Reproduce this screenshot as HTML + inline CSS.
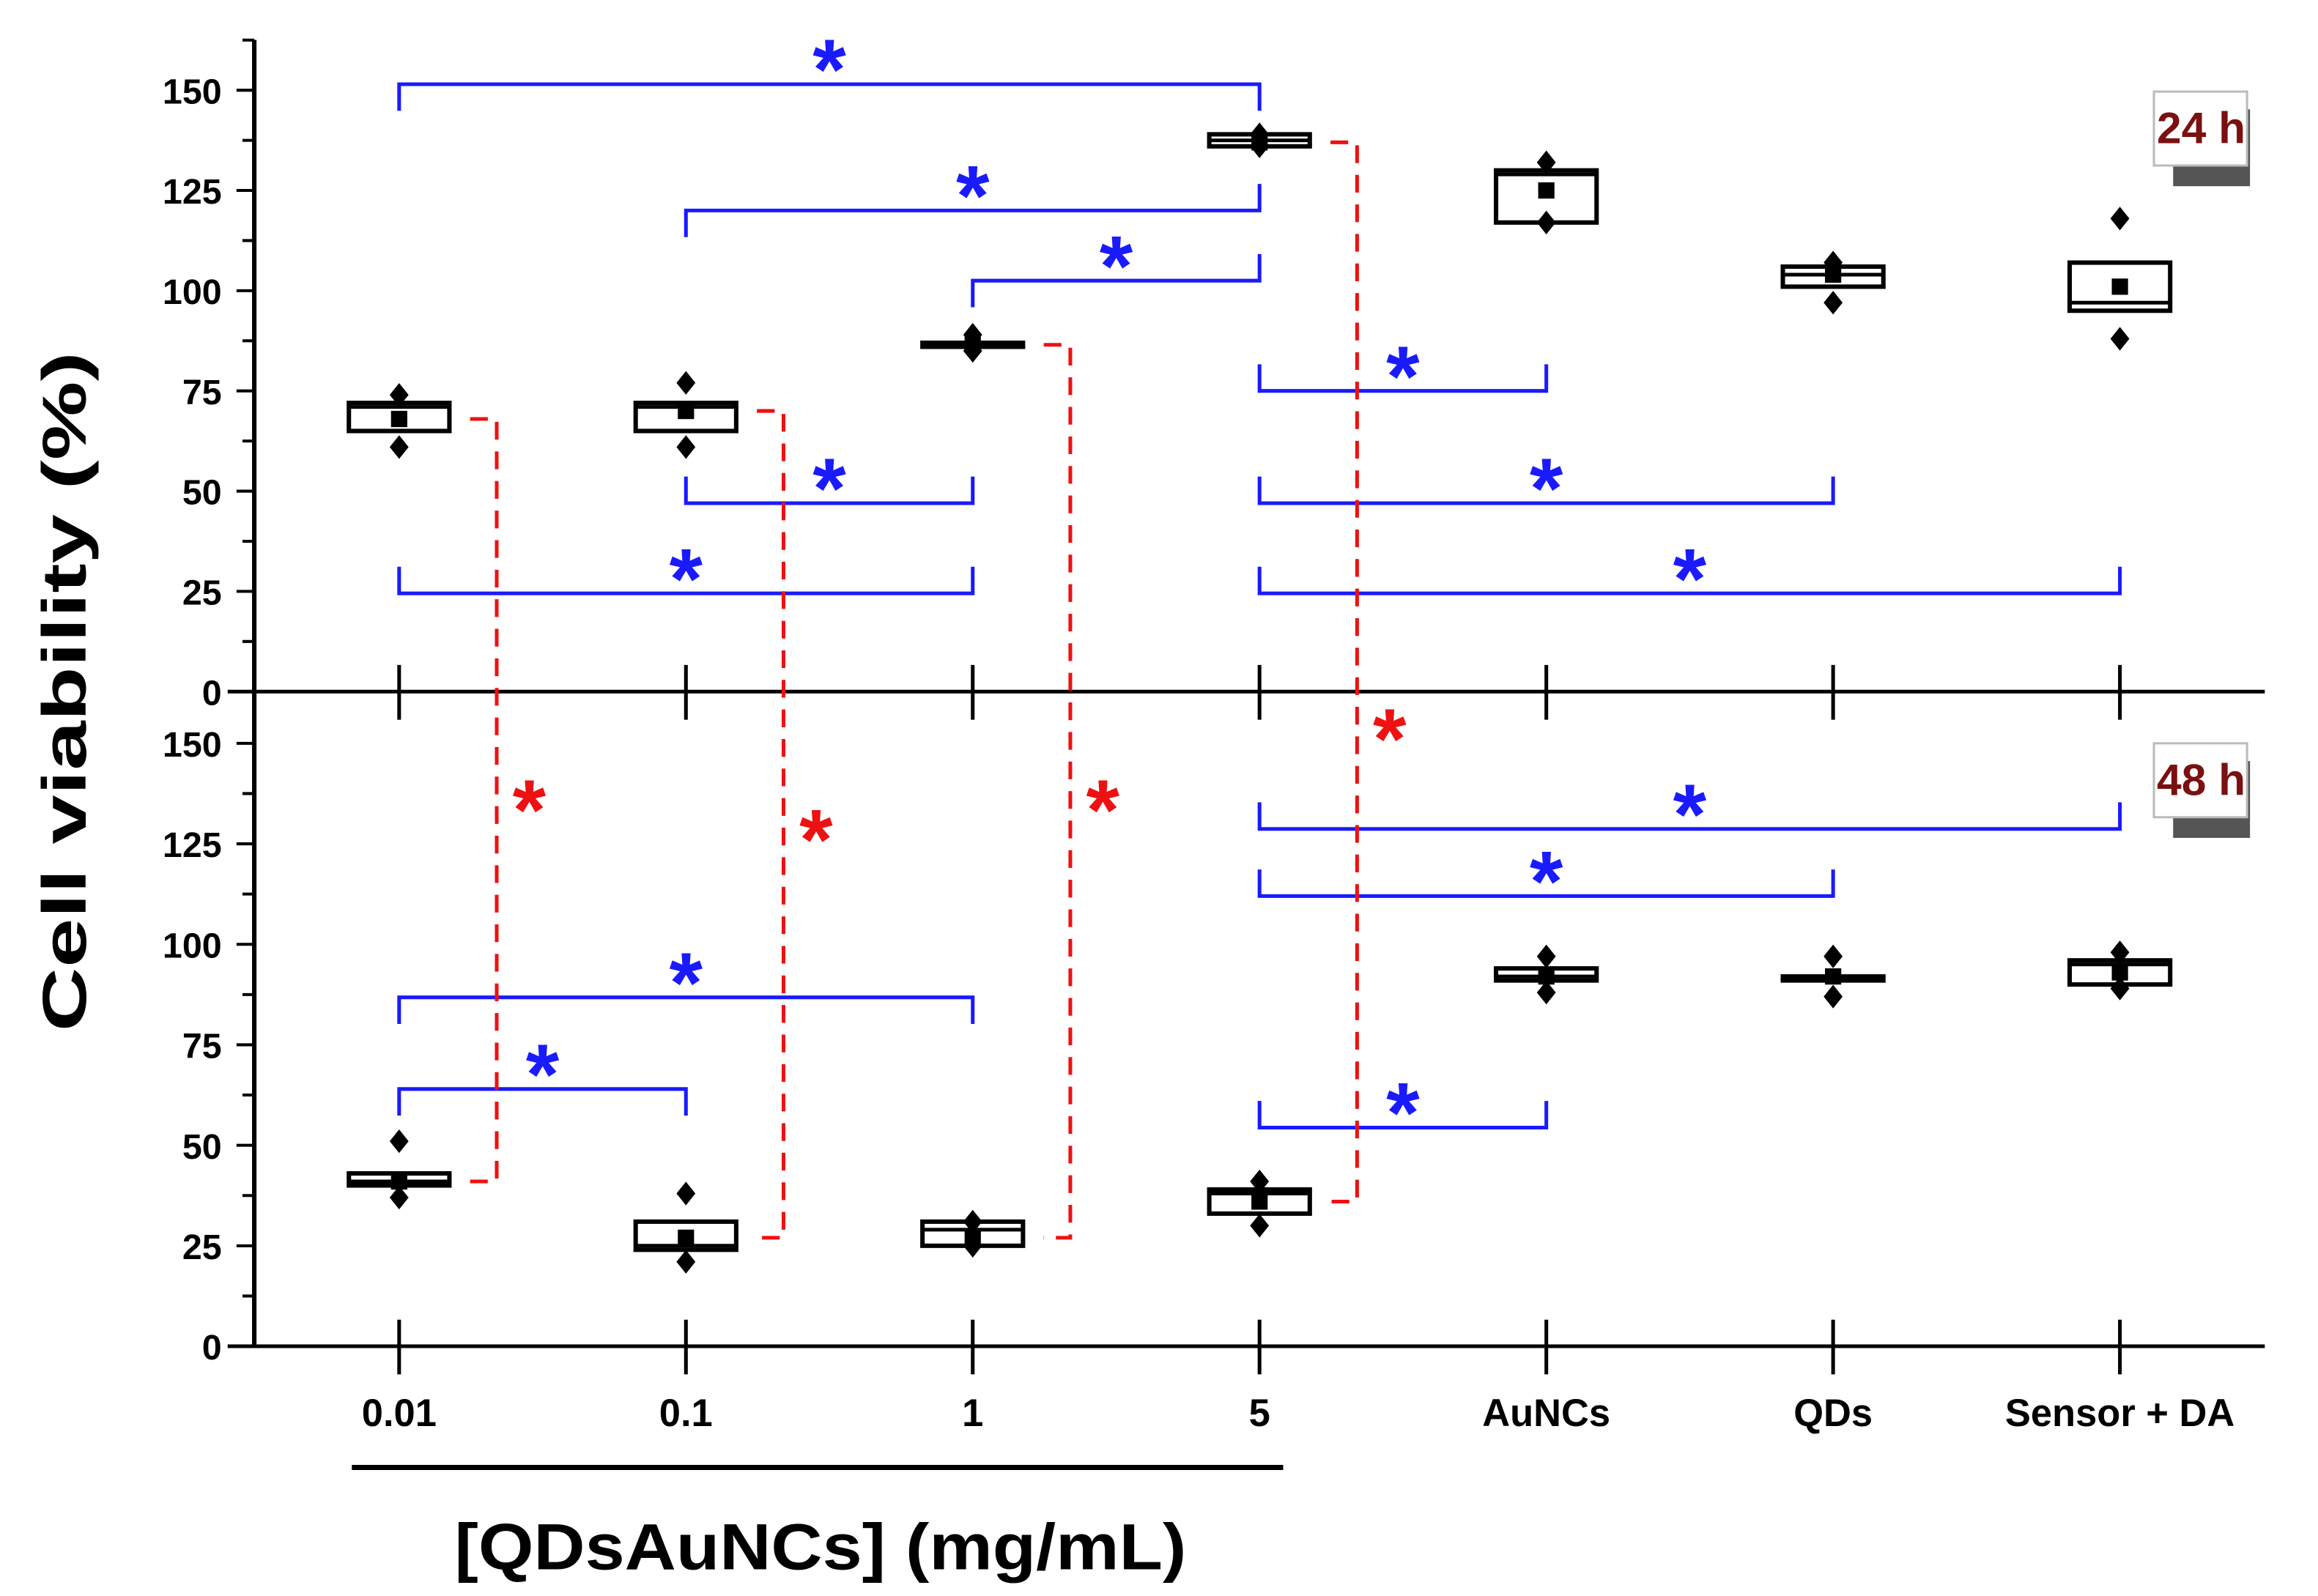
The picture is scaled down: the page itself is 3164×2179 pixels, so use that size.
<!DOCTYPE html>
<html><head><meta charset="utf-8"><style>
html,body{margin:0;padding:0;background:#fff;}
svg{display:block;}
text{font-family:"Liberation Sans",Arial,sans-serif;font-weight:bold;}
</style></head><body>
<svg id="chart" width="3164" height="2179" viewBox="0 0 1568 1080" preserveAspectRatio="none" xmlns="http://www.w3.org/2000/svg">
<g id="axes"></g>
<g id="marks"></g>
<text x="0" y="0" font-size="42" text-anchor="middle" textLength="460" lengthAdjust="spacingAndGlyphs" transform="translate(58,468) rotate(-90)">Cell viability  (%)</text>
<line x1="238" y1="993" x2="868" y2="993" stroke="#000" stroke-width="3.5"/>
<text x="555" y="1062" font-size="44" text-anchor="middle" textLength="495" lengthAdjust="spacingAndGlyphs">[QDsAuNCs] (mg/mL)</text>
<g>
<rect x="1470" y="74" width="52" height="52" fill="#555"/>
<rect x="1457" y="62" width="63" height="50" fill="#fff" stroke="#bbb" stroke-width="1.5"/>
<text x="1489" y="97" font-size="30" fill="#7a1010" text-anchor="middle">24 h</text>
</g>
<g>
<rect x="1470" y="515" width="52" height="52" fill="#555"/>
<rect x="1457" y="503" width="63" height="50" fill="#fff" stroke="#bbb" stroke-width="1.5"/>
<text x="1489" y="538" font-size="30" fill="#7a1010" text-anchor="middle">48 h</text>
</g>
</svg>
<script>
const categories = ["0.01","0.1","1","5","AuNCs","QDs","Sensor + DA"];
const yTicks = [0,25,50,75,100,125,150];
// 24 h
const q1_24 = [65,65,86,136,117,101,95];
const med_24 = [71,71,86.5,137.5,129,104,97];
const q3_24 = [72,72,87,139,130,106,107];
const mean_24 = [68,70,86.5,137,125,104,101];
const max_24 = [74,77,89,139,132,107,118];
const min_24 = [61,61,85,136,117,97,88];
// 48 h
const q1_48 = [40,24,25,33,91,91,90];
const med_48 = [41,25,29,38,92,91.5,95];
const q3_48 = [43,31,31,39,94,92,96];
const mean_48 = [41,27,27,36,92,92,93];
const max_48 = [51,38,31,41,97,97,98];
const min_48 = [37,21,25,30,88,87,89];
// brackets
const br24From = [0,1,2,3,1,3,0,3];
const br24To = [3,3,3,4,2,5,2,6];
const br24Val = [151.5,120,102.5,75,47,47,24.5,24.5];
const br24L = [1,1,1,-1,-1,-1,-1,-1];
const br24R = [1,-1,-1,-1,-1,-1,-1,-1];
const br48From = [3,3,0,0,3];
const br48To = [6,5,2,1,4];
const br48Val = [128.7,112,86.8,64,54.4];
const br48L = [-1,-1,1,1,-1];
const br48R = [-1,-1,1,1,-1];
const redCat = [0,1,2,3];

const NS="http://www.w3.org/2000/svg";
const xS = i => 270 + 194*i;
const yT = v => 468 - v*2.713;
const yB = v => 911 - v*2.72;
const axes = document.getElementById('axes');
const marks = document.getElementById('marks');
function mk(tag, at, parent){const e=document.createElementNS(NS,tag);for(const k in at)e.setAttribute(k,at[k]);parent.appendChild(e);return e;}

let e;
e = mk('line',{x1:172,y1:27,x2:172,y2:911,stroke:'#000','stroke-width':3},axes);


e = mk('line',{x1:154,y1:468,x2:1532,y2:468,stroke:'#000','stroke-width':2.5},axes);


e = mk('line',{x1:154,y1:911,x2:1532,y2:911,stroke:'#000','stroke-width':2.5},axes);


[yT,yB].forEach((ys,p)=>{
  for(let v=0; v<=162.5; v+=12.5){
    const maj = (v%25===0);
    if(p===1 && v>150) continue;
    e = mk('line',{x1:maj?160:164,y1:ys(v),x2:172,y2:ys(v),stroke:'#000','stroke-width':2},axes);
    
    
  }
  yTicks.forEach(v=>{
    e = mk('text',{x:150,y:ys(v)+9,'font-size':24,'text-anchor':'end'},axes);
    e.textContent=v;
    
    
  });
  categories.forEach((c,i)=>{
    const y0 = p===0?468:911;
    e = mk('line',{x1:xS(i),y1:y0-18,x2:xS(i),y2:y0+19,stroke:'#000','stroke-width':2.5},axes);
    
    
  });
});
categories.forEach((c,i)=>{
  e = mk('text',{x:xS(i),y:965,'font-size':26,'text-anchor':'middle'},axes);
  e.textContent=c;
  
  
});

function diamond(x,y){
  const d=8;
  e = mk('polygon',{points:`${x},${y-d} ${x+d*0.8},${y} ${x},${y+d} ${x-d*0.8},${y}`,fill:'#000'},marks);
  
  
}
function boxesIdx(ys,q1,med,q3,mean,mx,mn,tag){
  categories.forEach((c,i)=>{
    const x=xS(i);
    e = mk('rect',{x:x-34,y:ys(q3[i]),width:68,height:Math.max(ys(q1[i])-ys(q3[i]),1),fill:'#fff',stroke:'#000','stroke-width':3},marks);
    
    
    e = mk('line',{x1:x-34,y1:ys(med[i]),x2:x+34,y2:ys(med[i]),stroke:'#000','stroke-width':2.5},marks);
    
    
    e = mk('rect',{x:x-5.5,y:ys(mean[i])-5.5,width:11,height:11,fill:'#000'},marks);
    
    
    diamond(x,ys(mx[i])); diamond(x,ys(mn[i]));
  });
}
boxesIdx(yT,q1_24,med_24,q3_24,mean_24,max_24,min_24,'24h');
boxesIdx(yB,q1_48,med_48,q3_48,mean_48,max_48,min_48,'48h');

function brackets(ys,fr,to,val,L,R){
  fr.forEach((a,k)=>{
    const x1=xS(a), x2=xS(to[k]), y=ys(val[k]);
    e = mk('path',{d:`M${x1},${y+L[k]*18} L${x1},${y} L${x2},${y} L${x2},${y+R[k]*18}`,fill:'none',stroke:'#1a1aff','stroke-width':2.5},marks);
    
    
    e = mk('text',{x:(x1+x2)/2,y:y+10,'font-size':58,fill:'#1a1aff','text-anchor':'middle'},marks);
    e.textContent='*';
    
    
  });
}
brackets(yT,br24From,br24To,br24Val,br24L,br24R);
brackets(yB,br48From,br48To,br48Val,br48L,br48R);

redCat.forEach(i=>{
  const x0=xS(i)+48, xd=xS(i)+66;
  const y1=yT(mean_24[i]), y2=yB(mean_48[i]);
  e = mk('path',{d:`M${x0},${y1} L${xd},${y1} L${xd},${y2} L${x0},${y2}`,fill:'none',stroke:'#ee1111','stroke-width':2.5,'stroke-dasharray':'12,8'},marks);
  
  
  e = mk('text',{x:xd+22,y:(i===3?520:(i===1?588:568)),'font-size':58,fill:'#ee1111','text-anchor':'middle'},marks);
  e.textContent='*';
  
  
});
</script>
</body></html>
